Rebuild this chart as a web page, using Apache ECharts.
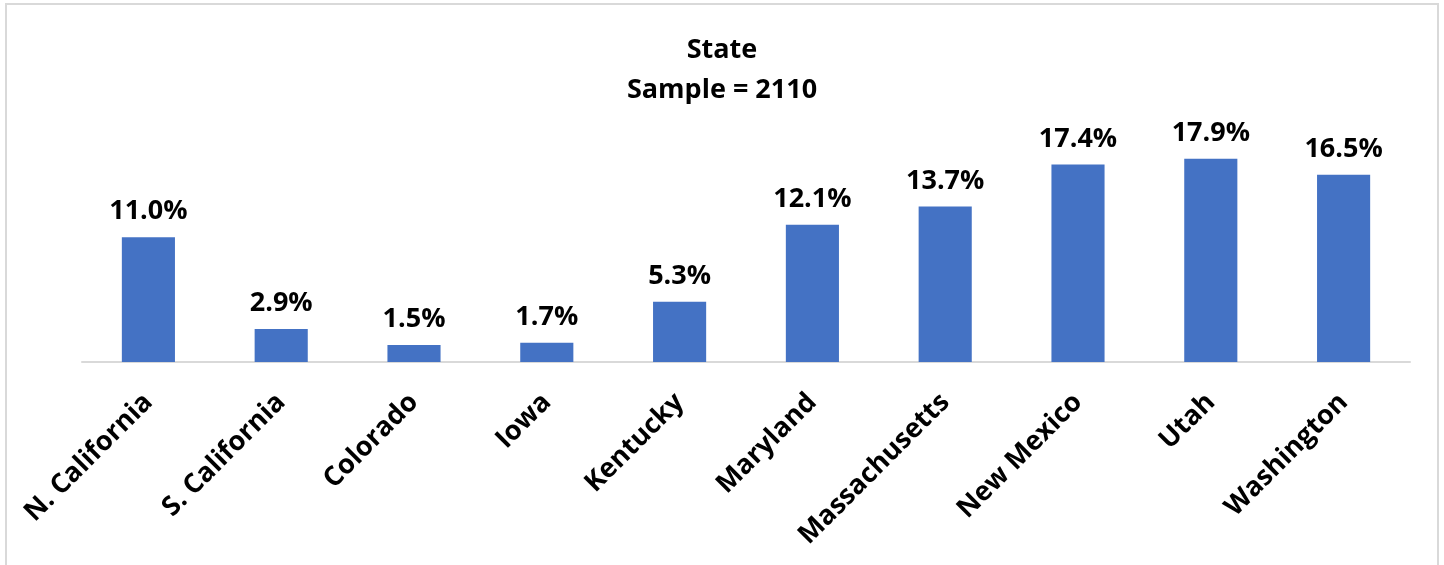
<!DOCTYPE html>
<html>
<head>
<meta charset="utf-8">
<script src="https://cdn.jsdelivr.net/npm/echarts@6/dist/echarts.min.js"></script>
<style>
  html, body { margin: 0; padding: 0; background: #fff; }
  #main { width: 1444px; height: 565px; }
</style>
</head>
<body>
<div id="main"></div>
<script>
const states = ['N. California', 'S. California', 'Colorado', 'Iowa', 'Kentucky',
  'Maryland', 'Massachusetts', 'New Mexico', 'Utah', 'Washington'];
const shares = [11.0, 2.9, 1.5, 1.7, 5.3, 12.1, 13.7, 17.4, 17.9, 16.5];
const titleText = 'State';
const sampleText = 'Sample = 2110';

const font = '"Open Sans", "Liberation Sans", sans-serif';
const chart = echarts.init(document.getElementById('main'));

chart.setOption({
  animation: false,
  title: {
    text: titleText + '\n' + sampleText,
    left: 'center',
    top: 25,
    textStyle: { fontFamily: font, fontWeight: 'bold', fontSize: 27, color: '#000', lineHeight: 40 }
  },
  graphic: [{
    type: 'rect',
    shape: { x: 6, y: 4, width: 1432, height: 620 },
    style: { fill: 'none', stroke: '#d9d9d9', lineWidth: 2 },
    silent: true
  }],
  grid: { left: 82, right: 34, top: 135, bottom: 203 },
  xAxis: {
    type: 'category',
    data: states,
    axisLine: { lineStyle: { color: '#d9d9d9', width: 2 } },
    axisTick: { show: false },
    axisLabel: {
      interval: 0,
      rotate: 45,
      margin: 36,
      color: '#000',
      fontFamily: font,
      fontWeight: 'bold',
      fontSize: 27
    }
  },
  yAxis: {
    type: 'value',
    min: 0,
    max: 20,
    show: false,
    splitLine: { show: false }
  },
  series: [{
    type: 'bar',
    data: shares,
    barWidth: '40%',
    itemStyle: { color: '#4472c4' },
    label: {
      show: true,
      position: 'top',
      distance: 12,
      formatter: p => p.value.toFixed(1) + '%',
      color: '#000',
      fontFamily: font,
      fontWeight: 'bold',
      fontSize: 27
    }
  }]
});
</script>
</body>
</html>
